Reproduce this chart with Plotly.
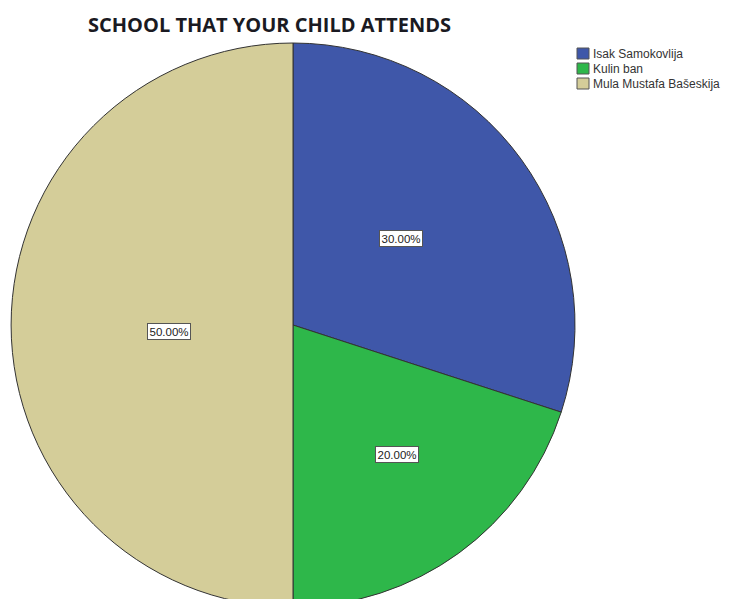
import math
import plotly.graph_objects as go

categories = ["Isak Samokovlija", "Kulin ban", "Mula Mustafa Bašeskija"]
values = [30, 20, 50]
colors = ["#3F57A9", "#2EB74A", "#D4CD99"]
title_text = "SCHOOL THAT YOUR CHILD ATTENDS"

W, H = 732, 599
OFF = 8  # page body margin
cx, cy, r = 293 - OFF, 325 - OFF, 282  # figure-pixel layout of the pie

dom_x = [(cx - r) / W, (cx + r) / W]
dom_y = [max(0, 1 - (cy + r) / H), min(1, 1 - (cy - r) / H)]

fig = go.Figure(go.Pie(
    labels=categories, values=values, sort=False, direction="clockwise",
    rotation=0, marker=dict(colors=colors, line=dict(color="#333333", width=1)),
    textinfo="none", hoverinfo="label+percent", domain=dict(x=dom_x, y=dom_y),
    showlegend=False,
))

def px(x):
    return (x - OFF) / W

def py(y):
    return 1 - (y - OFF) / H

total = sum(values)
cum = 0
fracs = [0.49, 0.59, 0.44]
annotations = []
for v, f in zip(values, fracs):
    mid = (cum + v / 2) / total * 2 * math.pi - 0.05
    cum += v
    x = cx + f * r * math.sin(mid)
    y = cy - f * r * math.cos(mid)
    annotations.append(dict(
        x=x / W, y=1 - y / H, xref="paper", yref="paper", showarrow=False,
        xanchor="center", yanchor="middle",
        text=f"{v / total * 100:.2f}%", font=dict(family="Liberation Sans", size=11.5, color="#222"),
        bgcolor="white", bordercolor="#555", borderwidth=1, borderpad=1.5,
    ))
annotations.append(dict(
    x=px(269), y=py(24), xref="paper", yref="paper", showarrow=False,
    xanchor="center", yanchor="middle",
    text=f"<b>{title_text}</b>", font=dict(family="Open Sans", size=20, color="#1a1a22"),
))

# manual legend
shapes = []
for i, (lab, col) in enumerate(zip(categories, colors)):
    top = 48 + i * 15
    shapes.append(dict(type="rect", xref="paper", yref="paper",
                       x0=px(577), x1=px(589), y0=py(top), y1=py(top + 11),
                       fillcolor=col, line=dict(color="#555", width=1)))
    annotations.append(dict(
        x=px(591), y=py(top + 6), xref="paper", yref="paper", showarrow=False,
        xanchor="left", yanchor="middle", text=lab,
        font=dict(family="Liberation Sans", size=12, color="#333"),
    ))

fig.update_layout(
    width=W, height=H, margin=dict(l=0, r=0, t=0, b=0),
    paper_bgcolor="white", plot_bgcolor="white",
    annotations=annotations, shapes=shapes, showlegend=False,
)
fig.write_html("out.html")
